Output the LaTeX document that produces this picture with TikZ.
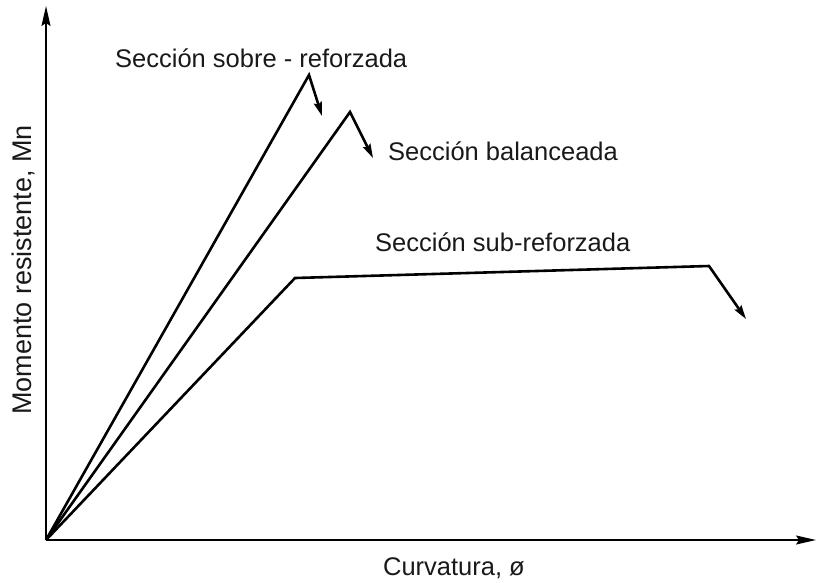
\documentclass[tikz,border=0pt]{standalone}
\usepackage{fontspec}
\setmainfont{Liberation Sans}
\usetikzlibrary{arrows.meta}
\begin{document}
\begin{tikzpicture}[x=1pt,y=-1pt,
  axis/.style={line width=1.6pt, -{Stealth[length=20pt,width=9pt,inset=3pt]}},
  drop/.style={line width=2.6pt, line join=miter, miter limit=20, -{Stealth[length=14pt,width=8pt,inset=2pt]}},
  lbl/.style={font=\fontsize{25.5}{30}\selectfont, inner sep=0pt, text=black!90}]
\useasboundingbox (0,0) rectangle (816,582);
\coordinate (O) at (46,540);
\coordinate (Ytop) at (46,6);
\coordinate (Xend) at (816,540);
\coordinate (P1) at (309,75);
\coordinate (E1) at (322,116);
\coordinate (P2) at (350,112);
\coordinate (E2) at (373,158);
\coordinate (K3) at (295,278);
\coordinate (P3) at (709,266);
\coordinate (E3) at (746,319);
\draw[axis] (O) -- (Ytop);
\draw[axis] (O) -- (Xend);
\draw[drop] (O) -- (P1) -- (E1);
\draw[drop] (O) -- (P2) -- (E2);
\draw[drop] (O) -- (K3) -- (P3) -- (E3);
\node[lbl, anchor=base west] (t1) at (115,67) {Sección sobre - reforzada};
\node[lbl, anchor=base west] (t2) at (388,160) {Sección balanceada};
\node[lbl, anchor=base west] (t3) at (375,251) {Sección sub-reforzada};
\node[lbl, anchor=base] (xl) at (454,575) {Curvatura, ø};
\node[lbl, font=\fontsize{27}{32}\selectfont, rotate=90, anchor=base] (yl) at (31,270) {Momento resistente, Mn};
\end{tikzpicture}
\end{document}
